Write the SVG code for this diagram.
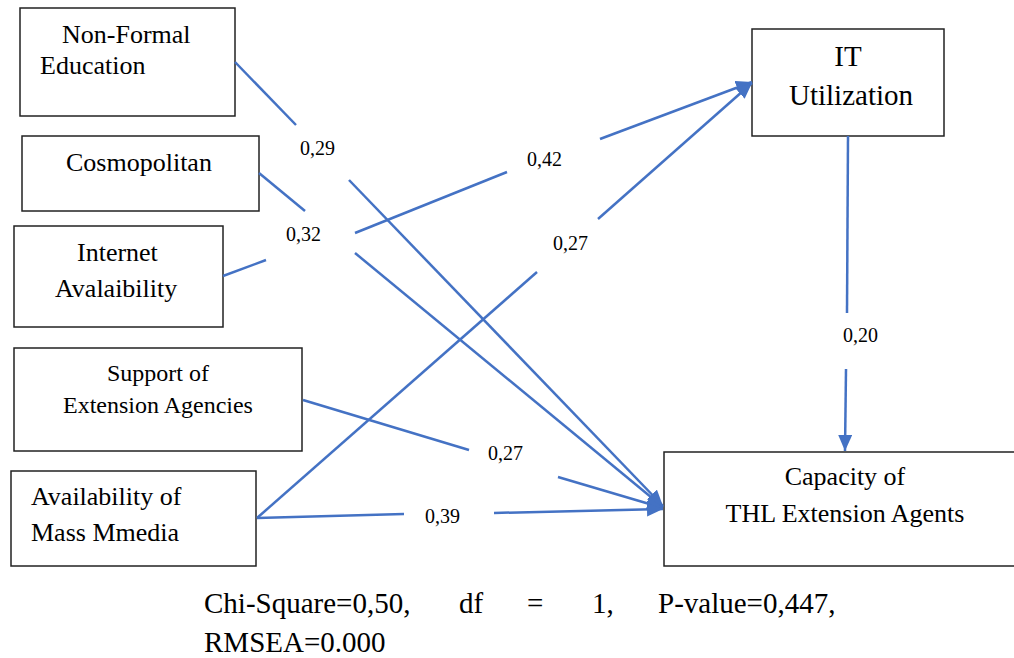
<svg xmlns="http://www.w3.org/2000/svg" width="1014" height="658" viewBox="0 0 1014 658">
<style>
.box{fill:#fff;stroke:#222;stroke-width:1.5}
.t{font-family:'Liberation Serif','Times New Roman',Times,'DejaVu Serif',serif;fill:#000}
.n{font-size:26px}
.s{font-size:24px}
.b{font-size:29px}
.l{font-size:20px}
.c{stroke:#4472C4;stroke-width:2.5;fill:none}
</style>
<defs>
<marker id="ah" markerUnits="userSpaceOnUse" markerWidth="18" markerHeight="16" refX="16" refY="7" orient="auto">
<path d="M0,0 L16,7 L0,14 Z" fill="#4472C4"/>
</marker>
</defs>
<rect width="1014" height="658" fill="#fff"/>
<g id="nonformal"><rect class="box" x="20" y="8" width="215" height="108"/><text class="t n" font-family="Liberation Serif, serif" x="62" y="43">Non-Formal</text><text class="t n" x="40" y="74">Education</text></g>
<g id="cosmopolitan"><rect class="box" x="22" y="136" width="237" height="75"/><text class="t n" x="66" y="171">Cosmopolitan</text></g>
<g id="internet"><rect class="box" x="14" y="226" width="209" height="101"/><text class="t n" x="77" y="261">Internet</text><text class="t n" x="55" y="297">Avalaibility</text></g>
<g id="support"><rect class="box" x="14" y="348" width="288" height="103"/><text class="t s" x="107" y="381">Support of</text><text class="t s" x="63" y="413">Extension Agencies</text></g>
<g id="massmedia"><rect class="box" x="11" y="471" width="245" height="95"/><text class="t n" x="31" y="505">Availability of</text><text class="t n" x="31" y="541">Mass Mmedia</text></g>
<g id="itutil"><rect class="box" x="752" y="29" width="192" height="107"/><text class="t b" x="848" y="66" text-anchor="middle">IT</text><text class="t b" x="851" y="105" text-anchor="middle">Utilization</text></g>
<g id="capacity"><rect class="box" x="664" y="452" width="370" height="114"/><text class="t n" x="845" y="485" text-anchor="middle">Capacity of</text><text class="t n" x="845" y="522" text-anchor="middle">THL Extension Agents</text></g>
<g id="connectors">
<line class="c" x1="235" y1="62" x2="296" y2="125"/><line class="c" x1="349" y1="180" x2="663" y2="506" marker-end="url(#ah)"/>
<line class="c" x1="259" y1="173" x2="305" y2="211"/><line class="c" x1="355" y1="253" x2="663" y2="507" marker-end="url(#ah)"/>
<line class="c" x1="223" y1="276" x2="266" y2="260"/><line class="c" x1="355" y1="233" x2="507" y2="172"/><line class="c" x1="600" y1="139" x2="752" y2="82" marker-end="url(#ah)"/>
<line class="c" x1="303" y1="400" x2="469" y2="450"/><line class="c" x1="558" y1="477" x2="663" y2="508" marker-end="url(#ah)"/>
<line class="c" x1="257" y1="518" x2="537" y2="272"/><line class="c" x1="598" y1="219" x2="752" y2="83" marker-end="url(#ah)"/>
<line class="c" x1="257" y1="518" x2="404" y2="514"/><line class="c" x1="494" y1="513" x2="663" y2="509" marker-end="url(#ah)"/>
<line class="c" x1="848" y1="136" x2="847" y2="313"/><line class="c" x1="846" y1="369" x2="845" y2="451" marker-end="url(#ah)"/>
</g>
<g id="labels">
<text class="t l" x="300" y="155">0,29</text>
<text class="t l" x="286" y="241">0,32</text>
<text class="t l" x="527" y="166">0,42</text>
<text class="t l" x="553" y="250">0,27</text>
<text class="t l" x="488" y="460">0,27</text>
<text class="t l" x="425" y="523">0,39</text>
<text class="t l" x="843" y="342">0,20</text>
</g>
<g id="fit">
<text class="t b" x="204" y="613">Chi-Square=0,50,</text>
<text class="t b" x="459" y="613">df</text>
<text class="t b" x="527" y="613">=</text>
<text class="t b" x="592" y="613">1,</text>
<text class="t b" x="658" y="613">P-value=0,447,</text>
<text class="t b" x="204" y="652">RMSEA=0.000</text>
</g>
</svg>
